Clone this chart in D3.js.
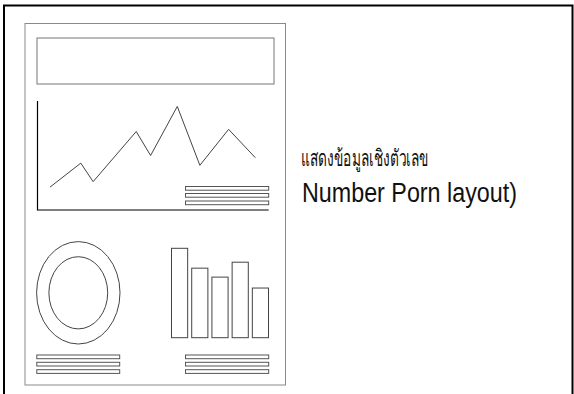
<!DOCTYPE html>
<meta charset="utf-8">
<head>
  <script src="https://d3js.org/d3.v7.min.js"></script>
  <style>
    body { margin: 0; background: #fff; }
    svg { display: block; }
  </style>
</head>
<body>
<div id="my_dataviz"></div>
<script>

// line sketch (x position, value)
var lineX = [0, 1.5, 2.1, 4.2, 4.9, 6.2, 7.3, 8.7, 10];
var lineValues = [21, 43, 26, 72, 50, 95, 41, 74, 48];

// bar sketch
var barNames = ["a", "b", "c", "d", "e"];
var barValues = [90, 70, 61, 76, 50];

// donut rings (outer, inner) as share of the outer size
var ringSizes = [1, 0.705];

// legend placeholder rows
var legendRows = [0, 1, 2];

var titleThai = "แสดงข้อมูลเชิงตัวเลข";
var titleEn = "Number Porn layout)";

var W = 574, H = 394;

var svg = d3.select("#my_dataviz")
  .append("svg")
    .attr("width", W)
    .attr("height", H);

// outer frame
svg.append("rect")
  .attr("x", 4).attr("y", 5.5)
  .attr("width", 568.5).attr("height", 400)
  .attr("fill", "none")
  .attr("stroke", "#000")
  .attr("stroke-width", 2);

// page
svg.append("rect")
  .attr("x", 25).attr("y", 23.5)
  .attr("width", 260.5).attr("height", 361.5)
  .attr("fill", "none")
  .attr("stroke", "#8a8a8a")
  .attr("stroke-width", 1);

// header box
svg.append("rect")
  .attr("x", 37).attr("y", 38)
  .attr("width", 237).attr("height", 46)
  .attr("fill", "none")
  .attr("stroke", "#777")
  .attr("stroke-width", 1);

// line chart
var x = d3.scaleLinear().domain([0, 10]).range([50, 255.3]);
var y = d3.scaleLinear().domain([0, 100]).range([210, 101]);

svg.append("path")
  .attr("d", "M37.5," + y(100) + "V" + y(0) + "H268.7")
  .attr("fill", "none")
  .attr("stroke", "#000")
  .attr("stroke-width", 1.2);

var line = d3.line()
  .x(function(d, i) { return x(lineX[i]); })
  .y(function(d) { return y(d); });

svg.append("path")
  .datum(lineValues)
  .attr("d", line)
  .attr("fill", "none")
  .attr("stroke", "#444")
  .attr("stroke-width", 1);

// legend rows
function legend(x0, x1, ys) {
  svg.selectAll(null)
    .data(legendRows)
    .enter()
    .append("rect")
      .attr("x", x0)
      .attr("y", function(d) { return ys[d]; })
      .attr("width", x1 - x0)
      .attr("height", 3.7)
      .attr("fill", "none")
      .attr("stroke", "#555")
      .attr("stroke-width", 1);
}
legend(185.5, 268.7, [186.5, 193.5, 201]);
legend(36.8, 119.7, [355, 362.3, 369.7]);
legend(185.5, 268.7, [355, 362.3, 369.7]);

// donut
svg.selectAll("ring")
  .data(ringSizes)
  .enter()
  .append("ellipse")
    .attr("cx", 78.3)
    .attr("cy", 292.8)
    .attr("rx", function(d) { return 41.7 * d; })
    .attr("ry", function(d) { return 51.2 * d; })
    .attr("fill", "none")
    .attr("stroke", "#444")
    .attr("stroke-width", 1);

// bars
var xb = d3.scaleBand()
  .domain(barNames)
  .range([171.5, 268.5])
  .paddingInner(0.2);
var yb = d3.scaleLinear().domain([0, 90]).range([337.7, 248.3]);

svg.selectAll("bars")
  .data(barValues)
  .enter()
  .append("rect")
    .attr("x", function(d, i) { return xb(barNames[i]); })
    .attr("y", function(d) { return yb(d); })
    .attr("width", xb.bandwidth())
    .attr("height", function(d) { return yb(0) - yb(d); })
    .attr("fill", "none")
    .attr("stroke", "#444")
    .attr("stroke-width", 1);

// text (narrow face squeezed to fit)
svg.append("text")
  .attr("x", 301).attr("y", 166)
  .attr("textLength", 128)
  .attr("lengthAdjust", "spacingAndGlyphs")
  .style("font-family", "'Liberation Sans', sans-serif")
  .style("font-size", "23px")
  .attr("fill", "#111")
  .text(titleThai);

svg.append("text")
  .attr("x", 302).attr("y", 201.5)
  .attr("textLength", 215)
  .attr("lengthAdjust", "spacingAndGlyphs")
  .style("font-family", "'Liberation Sans', sans-serif")
  .style("font-size", "27px")
  .attr("fill", "#111")
  .text(titleEn);

</script>
</body>
